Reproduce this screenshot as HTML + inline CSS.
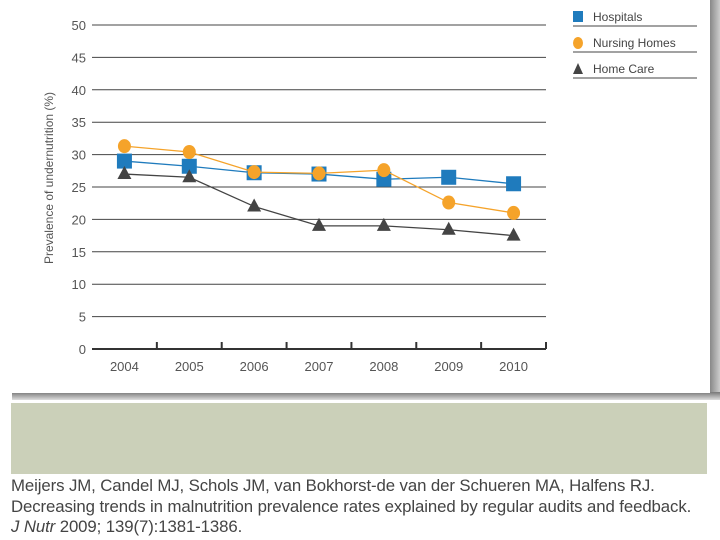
<!DOCTYPE html>
<html><head><meta charset="utf-8"><style>
body{margin:0;width:720px;height:540px;background:#fff;overflow:hidden;font-family:"Liberation Sans",sans-serif;position:relative}
</style></head><body>
<div style="position:absolute;left:710px;top:0;width:10px;height:398px;background:linear-gradient(to right,#888,#ccc)"></div>
<div style="position:absolute;left:12px;top:392px;width:708px;height:8px;background:linear-gradient(#777,#ddd)"></div>
<div style="position:absolute;left:0;top:0;width:710px;height:393px;background:#fff"></div>
<div style="position:absolute;left:11px;top:403px;width:696px;height:71px;background:#cbd0b9"></div>
<div style="position:absolute;left:11px;top:476px;font-size:16.8px;line-height:20.5px;color:#444;white-space:nowrap;letter-spacing:-0.1px">Meijers JM, Candel MJ, Schols JM, van Bokhorst-de van der Schueren MA, Halfens RJ.<br>Decreasing trends in malnutrition prevalence rates explained by regular audits and feedback.<br><i>J Nutr</i> 2009; 139(7):1381-1386.</div>
<svg id="chart" width="720" height="400" style="position:absolute;left:0;top:0"></svg>
<script>
const years=["2004","2005","2006","2007","2008","2009","2010"];
const hospitals=[29,28.2,27.2,27,26.2,26.5,25.5];
const nursingHomes=[31.3,30.4,27.3,27.1,27.6,22.6,21];
const homeCare=[27,26.5,22,19,19,18.4,17.5];
const yTicks=[0,5,10,15,20,25,30,35,40,45,50];
const svg=document.getElementById('chart');
const NS='http://www.w3.org/2000/svg';
const x0=92,x1=546,yb=349,yt=25;
const step=(x1-x0)/years.length;
const X=i=>x0+step*(i+0.5);
const Y=v=>yb-(v-0)/(50-0)*(yb-yt);
function mk(t,a){const e=document.createElementNS(NS,t);for(const k in a)e.setAttribute(k,a[k]);svg.appendChild(e);return e;}
yTicks.forEach(v=>{
  if(v>0){const g=mk('line',{x1:x0,x2:x1,y1:Y(v),y2:Y(v),stroke:'#444','stroke-width':1});
  
  }
  const t=mk('text',{x:86,y:Y(v)+5,'text-anchor':'end','font-size':13,fill:'#555'});
  t.textContent=v;
  
  
});
const ax=mk('line',{x1:x0,x2:x1,y1:yb,y2:yb,stroke:'#333','stroke-width':2});


for(let i=1;i<=years.length;i++){const tk=mk('line',{x1:x0+step*i,x2:x0+step*i,y1:yb,y2:yb-7,stroke:'#333','stroke-width':2});

}
years.forEach((y,i)=>{const t=mk('text',{x:X(i),y:371,'text-anchor':'middle','font-size':13,fill:'#555'});t.textContent=y;

});
const yl=mk('text',{x:0,y:0,transform:'translate(53,178) rotate(-90)','text-anchor':'middle','font-size':12,fill:'#555'});
yl.textContent='Prevalence of undernutrition (%)';


function series(vals,color,shape,name){
  const l=mk('polyline',{points:vals.map((v,i)=>X(i)+','+Y(v)).join(' '),fill:'none',stroke:color,'stroke-width':1.3});
  
  
  vals.forEach((v,i)=>{let m;const cx=X(i),cy=Y(v);
    if(shape==='sq')m=mk('rect',{x:cx-7.5,y:cy-7.5,width:15,height:15,fill:color});
    else if(shape==='ci')m=mk('ellipse',{cx:cx,cy:cy,rx:6.5,ry:7,fill:color});
    else m=mk('polygon',{points:`${cx},${cy-8} ${cx-7},${cy+5} ${cx+7},${cy+5}`,fill:color});
    
    });
}
series(hospitals,'#1f7bbd','sq','hospitals');
series(nursingHomes,'#f5a32a','ci','nursing-homes');
series(homeCare,'#444','tri','home-care');
const leg=[['Hospitals','#1f7bbd','sq'],['Nursing Homes','#f5a32a','ci'],['Home Care','#444','tri']];
leg.forEach((d,i)=>{const cy=16+i*26;
  let m;
  if(d[2]==='sq')m=mk('rect',{x:573,y:cy-5,width:10,height:11,fill:d[1]});
  else if(d[2]==='ci')m=mk('ellipse',{cx:578,cy:cy+1,rx:5,ry:6,fill:d[1]});
  else m=mk('polygon',{points:`578,${cy-5} 573,${cy+6} 583,${cy+6}`,fill:d[1]});
  
  
  const t=mk('text',{x:593,y:cy+5,'font-size':12,fill:'#444'});t.textContent=d[0];
  
  
  const ln=mk('line',{x1:573,x2:697,y1:cy+10,y2:cy+10,stroke:'#444','stroke-width':1});
  
  
});
</script>
</body></html>
